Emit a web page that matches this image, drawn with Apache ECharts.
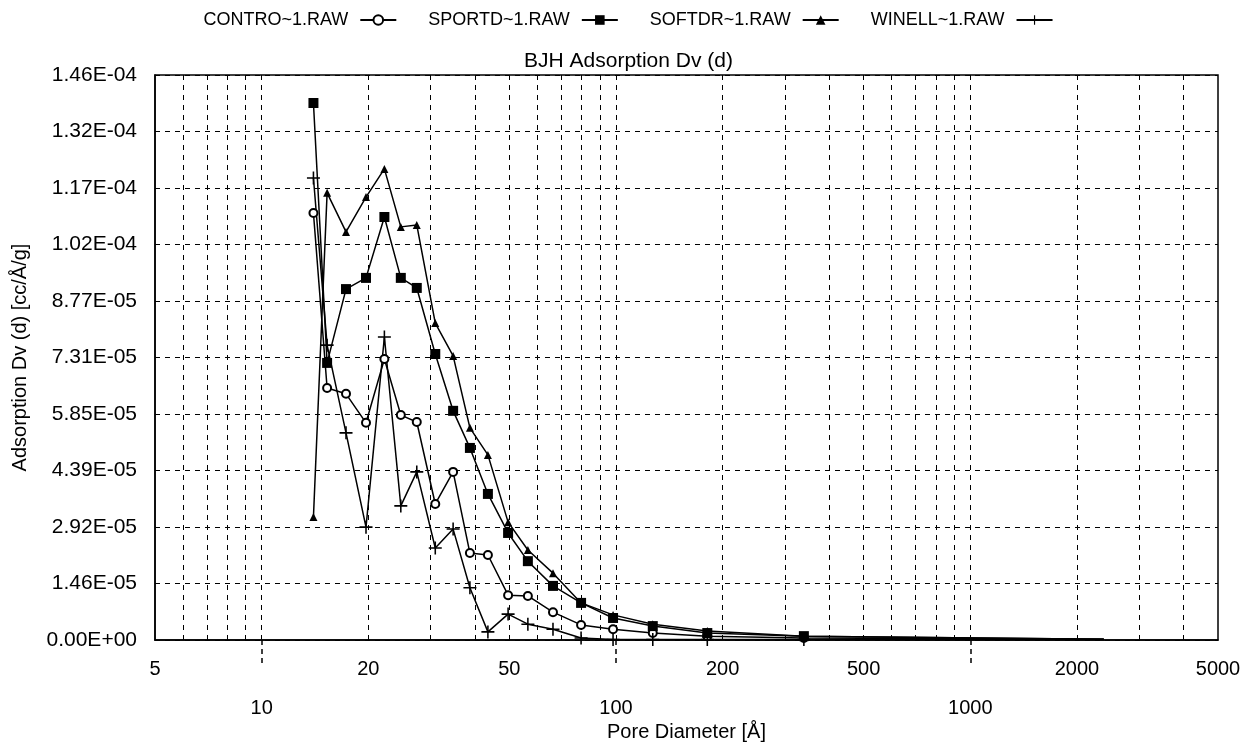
<!DOCTYPE html>
<html><head><meta charset="utf-8">
<script src="https://cdn.jsdelivr.net/npm/echarts@6/dist/echarts.min.js"></script>
<style>html,body{margin:0;padding:0;background:#fff}#c{width:1257px;height:742px}</style>
</head><body><div id="c"></div>
<script>
// ---- data ----
const poreDiameters = [14.0,15.3,17.3,19.7,22.2,24.7,27.4,30.9,34.7,38.7,43.5,49.6,56.4,66.4,79.7,98.1,127,181,339,2380];
const seriesNames = ['CONTRO~1.RAW','SPORTD~1.RAW','SOFTDR~1.RAW','WINELL~1.RAW'];
const contro = [1.105e-4,6.52e-5,6.37e-5,5.62e-5,7.27e-5,5.82e-5,5.64e-5,3.52e-5,4.35e-5,2.25e-5,2.20e-5,1.16e-5,1.14e-5,7.2e-6,3.9e-6,2.8e-6,1.8e-6,1.0e-6,5e-7,2e-7];
const sportd = [1.3895e-4,7.17e-5,9.08e-5,9.37e-5,1.0946e-4,9.37e-5,9.11e-5,7.40e-5,5.93e-5,4.97e-5,3.78e-5,2.77e-5,2.04e-5,1.40e-5,9.6e-6,5.7e-6,3.6e-6,1.8e-6,1.0e-6,2e-7];
const softdr = [3.18e-5,1.157e-4,1.056e-4,1.146e-4,1.219e-4,1.069e-4,1.074e-4,8.20e-5,7.35e-5,5.49e-5,4.79e-5,3.05e-5,2.33e-5,1.73e-5,9.6e-6,6.5e-6,4.1e-6,2.3e-6,1.0e-6,2e-7];
const winell = [1.1955e-4,7.63e-5,5.36e-5,2.92e-5,7.84e-5,3.47e-5,4.35e-5,2.38e-5,2.87e-5,1.35e-5,2.1e-6,6.7e-6,4.1e-6,2.8e-6,5e-7,1e-7,1e-7,1e-7,1e-7,1e-7];
const xLabelsRow1 = [5,20,50,200,500,2000,5000];
const xLabelsRow2 = [10,100,1000];
const xGridValues = [6,7,8,9,10,20,30,40,50,60,70,80,90,100,200,300,400,500,600,700,800,900,1000,2000,3000,4000];
const yMax = 1.462e-4;
const yStep = 1.462e-5;
const titleText = 'BJH Adsorption Dv (d)';
const xName = 'Pore Diameter [Å]';
const yName = 'Adsorption Dv (d) [cc/Å/g]';

// ---- chart ----
const FONT = 'Liberation Sans, Arial, sans-serif';
function sci(v){
  if (Math.abs(v) < 1e-12) return '0.00E+00';
  const s = v.toExponential(2).split('e');
  const n = parseInt(s[1],10);
  return s[0] + 'E' + (n<0?'-':'+') + String(Math.abs(n)).padStart(2,'0');
}
const plain = v => String(Math.round(v));
const plusPath = 'path://M4.4,0H5.6V4.4H10V5.6H5.6V10H4.4V5.6H0V4.4H4.4Z';
const symbols = [
  {symbol:'emptyCircle', size:8},
  {symbol:'rect', size:10},
  {symbol:'triangle', size:8},
  {symbol:plusPath, size:13}
];
const allValues = [contro, sportd, softdr, winell];

const series = seriesNames.map((name, si) => ({
  name: name,
  type: 'line',
  symbol: symbols[si].symbol,
  symbolSize: symbols[si].size,
  showAllSymbol: true,
  lineStyle: {color:'#000', width:1.5},
  itemStyle: {color:'#000', borderColor:'#000', borderWidth: si===0?1.2:0},
  emphasis: {disabled:true},
  data: poreDiameters.map((d, i) => {
    const item = {value:[d, allValues[si][i]]};
    if (i === poreDiameters.length - 1) item.symbol = 'none';
    return item;
  })
}));

const chart = echarts.init(document.getElementById('c'), null, {renderer:'canvas'});
chart.setOption({
  animation: false,
  backgroundColor: '#fff',
  textStyle: {fontFamily: FONT, color:'#000'},
  title: {
    text: titleText, left: 'center', top: 46,
    textStyle: {fontFamily: FONT, fontSize: 21, fontWeight: 'normal', color:'#000'}
  },
  legend: {
    top: 6, left: 'center', align: 'right',
    itemWidth: 36, itemHeight: 12, itemGap: 31,
    textStyle: {fontFamily: FONT, fontSize: 18, color:'#000', padding:[0,7,0,0]},
    data: seriesNames
  },
  grid: {left:155, right:39, top:75, bottom:102, show:true, borderColor:'#000', borderWidth:1.5, outerBoundsMode:'none', containLabel:false},
  xAxis: [{
    type:'log', logBase:10, min:5, max:5000, gridIndex:0, position:'bottom',
    name: xName, nameLocation:'middle', nameGap: 82,
    nameTextStyle:{fontFamily:FONT, fontSize:20, color:'#000'},
    axisLine:{show:true, lineStyle:{color:'#000', width:1.5}},
    axisTick:{show:true, inside:true, length:5, customValues: xGridValues, lineStyle:{color:'#000', width:1}},
    splitLine:{show:true, lineStyle:{color:'#000', width:1, type:[5,5]}},
    axisLabel:{customValues: xLabelsRow1, formatter: plain, margin:19, fontFamily:FONT, fontSize:20, color:'#000'}
  },{
    type:'log', logBase:10, min:5, max:5000, gridIndex:0, position:'bottom',
    axisLine:{show:false},
    axisTick:{show:true, inside:false, length:26, customValues: xLabelsRow2, lineStyle:{color:'#000', width:1.5, type:[5,4]}},
    splitLine:{show:false},
    axisLabel:{customValues: xLabelsRow2, formatter: plain, margin:58, fontFamily:FONT, fontSize:20, color:'#000'}
  }],
  yAxis: {
    type:'value', min:0, max:yMax, interval:yStep,
    name: yName, nameLocation:'middle', nameGap: 125,
    nameTextStyle:{fontFamily:FONT, fontSize:20, color:'#000'},
    axisLine:{show:true, lineStyle:{color:'#000', width:1.5}},
    axisTick:{show:true, inside:true, length:5, lineStyle:{color:'#000'}},
    splitLine:{show:true, lineStyle:{color:'#000', width:1, type:[5,5]}},
    axisLabel:{formatter: sci, margin:18, fontFamily:FONT, fontSize:21, color:'#000'}
  },
  series: series
});
</script>
</body></html>
